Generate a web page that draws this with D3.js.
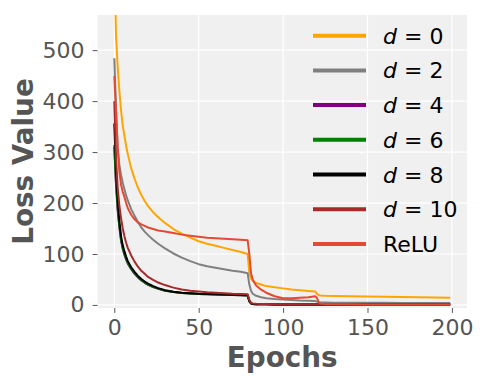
<!DOCTYPE html>
<html>
<head>
<meta charset="utf-8">
<script src="https://cdn.jsdelivr.net/npm/d3@7"></script>
<style>
    body { margin: 0; background: #fff; }
    text { font-family: "DejaVu Sans", sans-serif; }
</style>
</head>
<body>
<div id="viz"></div>
<script>
// sampled epochs (x values shared by every series)
const epochs = [0, 1, 2, 3, 4, 5, 6, 7, 8, 10, 12, 14, 16, 18, 20, 23, 26, 30, 35, 40, 45, 50, 55, 60, 65, 70, 75, 79,
    80, 81, 82, 84, 87, 90, 95, 100, 105, 110, 115, 119, 120, 121, 122, 125, 130, 140, 150, 160, 170, 180, 190, 199];

const d0 = [700, 530, 467, 420, 382, 352, 332, 312, 296, 268, 248, 230, 216, 204, 194, 182, 172, 161, 149, 140, 132, 125, 120, 116, 112, 108, 104, 100,
    62, 52, 47, 43, 40, 37, 34.5, 32.5, 30.5, 29, 27.5, 26.5, 22, 19.5, 18.5, 18, 17.6, 17, 16.5, 16, 15.5, 15, 14.5, 14];
const d2 = [484, 390, 310, 275, 255, 240, 227, 215, 205, 188, 175, 163, 152, 144, 137, 128, 120, 111, 101, 93, 86, 80, 76, 73, 70, 67, 65, 62,
    40, 28, 22, 18, 15, 13, 11.5, 10.5, 9.5, 8.5, 8, 7.5, 6.5, 5.5, 5, 4.8, 4.5, 4.3, 4.2, 4.1, 4, 4, 3.9, 3.8];
const d4 = [310, 236, 186, 152, 126, 110, 98, 89, 81, 70, 61, 54, 48, 43.5, 39.5, 35, 31.5, 28, 25.5, 23.5, 22.5, 21.5, 21, 20.5, 20, 19.5, 19, 18.5,
    7, 3, 2, 1.5, 1.3, 1.2, 1.1, 1.1, 1, 1, 1, 1, 1, 1, 1, 1, 1, 1, 1, 1, 1, 1, 1, 1];
const d6 = [314, 240, 190, 155, 128, 112, 100, 91, 83, 71, 62, 55, 49, 44, 40, 35.5, 32, 28.5, 25.5, 23.5, 22.5, 21.5, 21, 20.5, 20, 19.5, 19, 18.5,
    7, 3, 2, 1.5, 1.3, 1.2, 1.1, 1.1, 1, 1, 1, 1, 1, 1, 1, 1, 1, 1, 1, 1, 1, 1, 1, 1];
const d8 = [356, 265, 205, 165, 135, 117, 105, 95, 86, 74, 65, 57, 51, 46, 42, 37, 33, 29, 26, 24, 23, 22, 21.5, 21, 20.5, 20, 19.5, 19,
    8, 3, 2, 1.5, 1.3, 1.2, 1.1, 1.1, 1, 1, 1, 1, 1, 1, 1, 1, 1, 1, 1, 1, 1, 1, 1, 1];
const d10 = [400, 290, 230, 195, 170, 150, 135, 122, 112, 97, 85, 75, 67, 61, 55, 49, 44, 39, 34, 30.5, 28, 26.5, 25, 24, 23, 22, 21.5, 21,
    10, 4, 3, 2.5, 2, 1.8, 1.6, 1.5, 1.4, 1.3, 1.3, 1.2, 1.2, 1.2, 1.2, 1.2, 1.2, 1.1, 1.1, 1.1, 1.1, 1.1, 1.1, 1.1];
const relu = [449, 380, 310, 262, 236, 222, 212, 200, 190, 177, 168, 162, 158, 155, 152, 149, 146, 144, 141, 138, 136, 134, 132, 131, 130, 129, 128, 127,
    100, 62, 50, 38, 30, 24, 17, 13, 13, 14, 15, 17, 14, 6, 3, 1.6, 1.3, 1.2, 1.1, 1.1, 1, 1, 1, 1];

const labels = ["d = 0", "d = 2", "d = 4", "d = 6", "d = 8", "d = 10", "ReLU"];
const colors = ["#FFA500", "#808080", "#800080", "#008000", "#000000", "#A52A2A", "#E24A33"];
const xTicks = [0, 50, 100, 150, 200];
const yTicks = [0, 100, 200, 300, 400, 500];

document.addEventListener("DOMContentLoaded", () => {

    const width = 484;
    const height = 384;
    const margin = {left: 97.5, right: 17, top: 15, bottom: 76};

    const svg = d3.select("#viz").append("svg")
        .attr("width", width)
        .attr("height", height);

    const x = d3.scaleLinear().domain([-9.95, 208.95]).range([margin.left, width - margin.right]);
    const y = d3.scaleLinear().domain([-6, 569]).range([height - margin.bottom, margin.top]);

    // ggplot-ish panel
    svg.append("rect")
        .attr("x", margin.left).attr("y", margin.top)
        .attr("width", width - margin.left - margin.right)
        .attr("height", height - margin.top - margin.bottom)
        .attr("fill", "#F0F0F0");

    svg.append("clipPath").attr("id", "clip")
        .append("rect")
        .attr("x", margin.left).attr("y", margin.top)
        .attr("width", width - margin.left - margin.right)
        .attr("height", height - margin.top - margin.bottom);

    const grid = svg.append("g").attr("stroke", "#fff").attr("stroke-width", 1.2);
    grid.selectAll(".gx").data(xTicks).enter().append("line")
        .attr("x1", d => x(d)).attr("x2", d => x(d))
        .attr("y1", margin.top).attr("y2", height - margin.bottom);
    grid.selectAll(".gy").data(yTicks).enter().append("line")
        .attr("x1", margin.left).attr("x2", width - margin.right)
        .attr("y1", d => y(d)).attr("y2", d => y(d));

    const xAxis = svg.append("g")
        .attr("transform", `translate(0,${height - margin.bottom})`)
        .call(d3.axisBottom(x).tickValues(xTicks).tickSize(4.9).tickPadding(6));
    const yAxis = svg.append("g")
        .attr("transform", `translate(${margin.left},0)`)
        .call(d3.axisLeft(y).tickValues(yTicks).tickSize(4.9).tickPadding(8));

    [xAxis, yAxis].forEach(a => {
        a.select(".domain").remove();
        a.selectAll("line").attr("stroke", "#555");
        a.selectAll("text").attr("fill", "#555").style("font-size", "22px")
            .style("font-family", "DejaVu Sans");
    });

    const series = [d0, d2, d4, d6, d8, d10, relu];
    const line = d3.line().x((d, i) => x(epochs[i])).y(d => y(d));

    svg.append("g").attr("clip-path", "url(#clip)")
        .selectAll("path")
        .data(series)
        .enter()
        .append("path")
        .attr("d", d => line(d))
        .attr("fill", "none")
        .attr("stroke", (d, i) => colors[i])
        .attr("stroke-width", 2)
        .attr("stroke-linejoin", "round");

    // legend, no frame
    const legend = svg.append("g");
    labels.forEach((lab, i) => {
        const cy = 35.7 + i * 34.7;
        legend.append("line")
            .attr("x1", 313).attr("x2", 366)
            .attr("y1", cy).attr("y2", cy)
            .attr("stroke", colors[i])
            .attr("stroke-width", 4);
        const t = legend.append("text")
            .attr("x", 383).attr("y", cy + 8)
            .style("font-size", "22px")
            .attr("fill", "#000");
        if (lab.startsWith("d")) {
            t.append("tspan").style("font-style", "italic").text("d");
            t.append("tspan").text(lab.slice(1));
        } else {
            t.text(lab);
        }
    });

    svg.append("text")
        .attr("x", (margin.left + width - margin.right) / 2)
        .attr("y", 367)
        .attr("text-anchor", "middle")
        .attr("fill", "#555")
        .style("font-size", "27.8px")
        .style("font-weight", "bold")
        .text("Epochs");

    svg.append("text")
        .attr("transform", `translate(32.5,${(margin.top + height - margin.bottom) / 2}) rotate(-90)`)
        .attr("text-anchor", "middle")
        .attr("fill", "#555")
        .style("font-size", "27.8px")
        .style("font-weight", "bold")
        .text("Loss Value");
});
</script>
</body>
</html>
